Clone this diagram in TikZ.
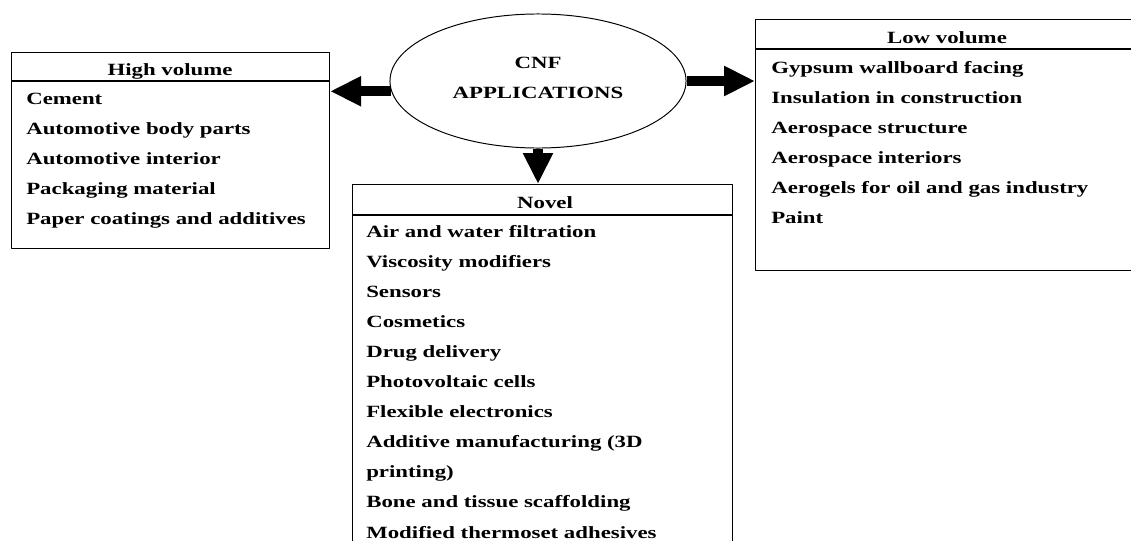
\documentclass[tikz,border=0pt]{standalone}
\usepackage{fontspec}
\setmainfont{Liberation Serif}[FakeStretch=1.33]
\usetikzlibrary{arrows.meta,shapes.geometric}
\begin{document}
\begin{tikzpicture}[x=0.025cm, y=-0.025cm, font=\fontsize{12.2}{14}\selectfont\bfseries, line join=round,
	listbox/.style={draw, line width=0.8pt, anchor=north west, inner sep=0pt},
	item/.style={anchor=base west, inner sep=0pt},
	head/.style={anchor=base, inner sep=0pt},
	fatarrow/.style={line width=7pt, -{Triangle[length=22pt,width=20pt]}}]
	\useasboundingbox (0,0) rectangle (1131,540);
	\clip (0,0) rectangle (1131,540);
	\path (0,81) coordinate (hvsep)
	(0,215) coordinate (novsep)
	(0,49) coordinate (lvsep);
	\node[draw, ellipse, line width=0.7pt, minimum width=7.4cm, minimum height=3.35cm] (cnf) at (538,81) {};
	\node[head] (cnf1) at (538,68) {CNF};
	\node[head] (cnf2) at (538,98) {APPLICATIONS};
	\node[listbox, minimum width=7.95cm, minimum height=4.9cm] (hv) at (11,52) {};
	\node[listbox, minimum width=9.5cm, minimum height=9.4cm] (nov) at (352,184) {};
	\node[listbox, minimum width=9.75cm, minimum height=6.275cm] (lv) at (755,19) {};
	\draw[line width=0.8pt] (hv.west |- hvsep) -- (hv.east |- hvsep)
	(nov.west |- novsep) -- (nov.east |- novsep)
	(lv.west |- lvsep) -- (lv.east |- lvsep);
	\node[head] (hvhead) at (170,75) {High volume};
	\node[head] (novhead) at (545,208) {Novel};
	\node[head] (lvhead) at (947,43) {Low volume};
	\foreach \t [count=\i from 0] in {Cement,Automotive body parts,Automotive interior,Packaging material,Paper coatings and additives}
	\node[item] (hv\i) at (26,{104+30*\i}) {\t};
	\foreach \t [count=\i from 0] in {Air and water filtration,Viscosity modifiers,Sensors,Cosmetics,Drug delivery,Photovoltaic cells,Flexible electronics,Additive manufacturing (3D,printing),Bone and tissue scaffolding,Modified thermoset adhesives}
	\node[item] (nov\i) at (366,{237+30.1*\i}) {\t};
	\foreach \t [count=\i from 0] in {Gypsum wallboard facing,Insulation in construction,Aerospace structure,Aerospace interiors,Aerogels for oil and gas industry,Paint}
	\node[item] (lv\i) at (771,{73+30.1*\i}) {\t};
	\draw[fatarrow] (cnf.184) -- (hv.east |- cnf.184);
	\draw[fatarrow] (cnf.east) -- (lv.west |- cnf.east);
	\draw[fatarrow] (cnf.south) -- (cnf.south |- nov.north);
\end{tikzpicture}
\end{document}
